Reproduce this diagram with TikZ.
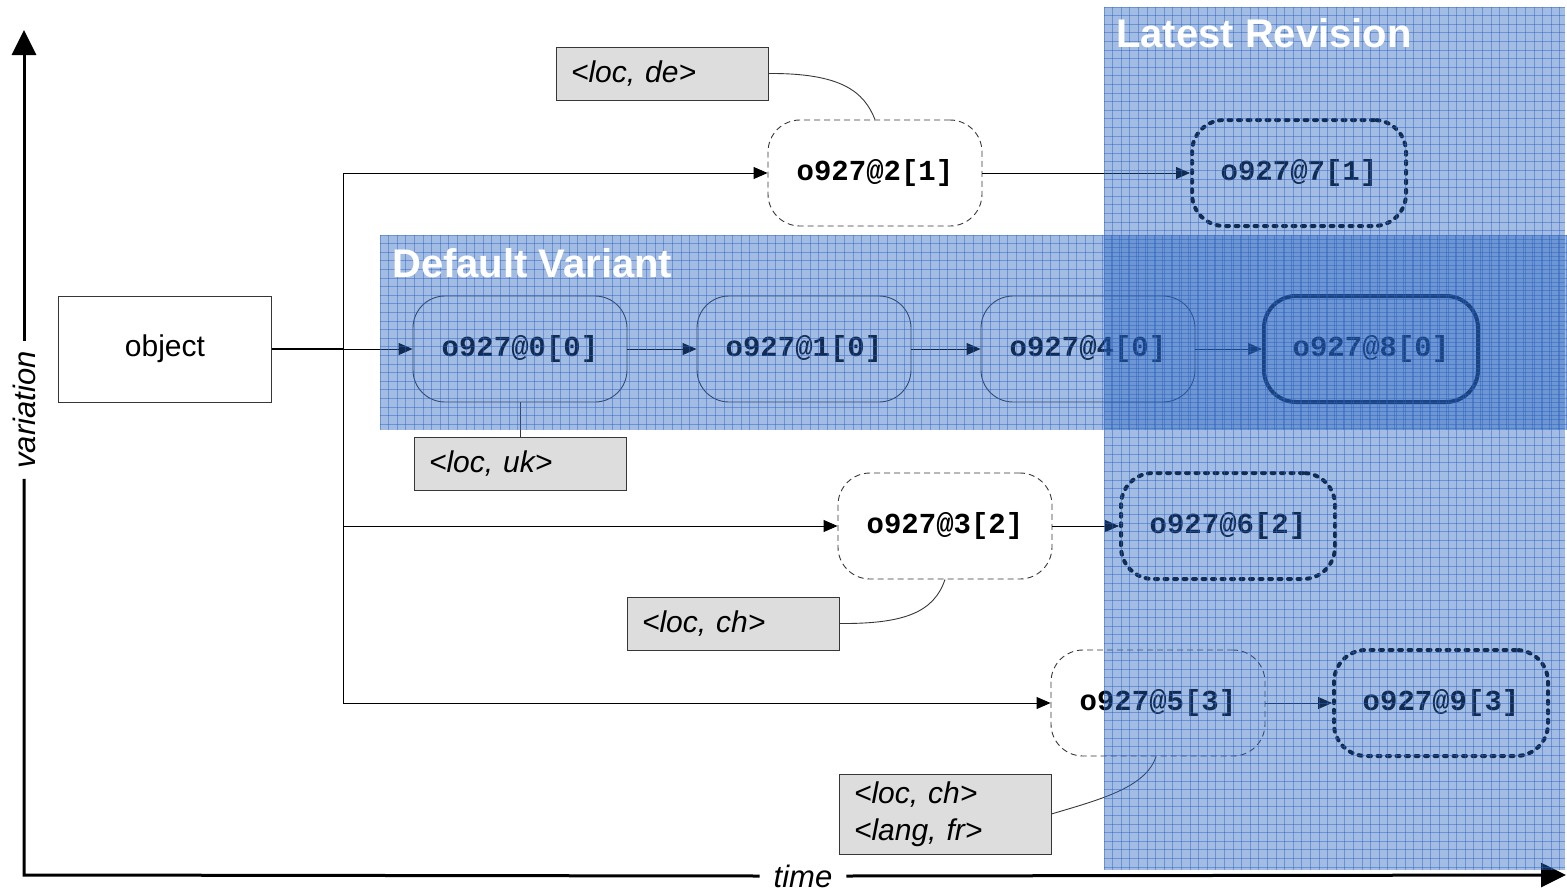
\documentclass[tikz,border=0pt]{standalone}
\usepackage{fontspec}
\setmainfont{Liberation Sans}
\newfontfamily\codefont{Liberation Mono}
\usetikzlibrary{arrows.meta}

\definecolor{panelblue}{RGB}{40,100,190}
\definecolor{gridblue}{RGB}{40,95,190}
\definecolor{notegray}{RGB}{221,221,221}
\definecolor{edgegray}{RGB}{55,55,55}

\begin{document}
\begin{tikzpicture}[x=1pt,y=-1pt,
  version/.style={draw=edgegray, line width=0.9pt, rounded corners=32pt,
    minimum width=214pt, minimum height=106pt, inner sep=0pt,
    font=\codefont\bfseries\fontsize{29}{34}\selectfont},
  variantv/.style={version, dash pattern=on 6pt off 4pt},
  latestv/.style={version, draw=black, line width=4pt, line cap=round,
    dash pattern=on 3pt off 6.5pt},
  headv/.style={version, draw=black, line width=4pt},
  objbox/.style={draw=edgegray, line width=0.9pt, minimum width=213pt,
    minimum height=106pt, font=\fontsize{30}{36}\selectfont},
  note/.style={draw=edgegray, fill=notegray, line width=0.9pt,
    minimum width=212pt, minimum height=53pt, text width=182pt,
    inner xsep=15pt, inner ysep=4pt, align=left,
    font=\itshape\fontsize{30}{37}\selectfont},
  flow/.style={draw=black, line width=0.9pt,
    -{Triangle[length=14pt,width=12pt]}},
  tie/.style={draw=edgegray, line width=0.9pt},
  axis/.style={draw=black, line width=3pt},
  axistip/.style={axis, -{Triangle[length=25pt,width=24pt]}},
  axislabel/.style={font=\itshape\fontsize{31}{36}\selectfont, inner ysep=0pt},
  paneltitle/.style={text=white, inner sep=0pt, anchor=base west,
    font=\bfseries\fontsize{40}{48}\selectfont},
  panelfill/.style={fill=panelblue, opacity=0.43},
  panelgrid/.style={draw=gridblue, opacity=0.45, line width=0.8pt}
]
\useasboundingbox (0,0) rectangle (1567,894);

% axes
\coordinate (origin) at (24,875);
\coordinate (ytop) at (24,30);
\coordinate (xend) at (1566,875);
\node[axislabel, rotate=90, inner xsep=10pt] (vlabel) at (24,410) {variation};
\node[axislabel, inner xsep=14pt] (tlabel) at (803,876) {time};
\draw[axistip] (vlabel.east) -- (ytop);
\draw[axis] (vlabel.west) -- (origin) -- (tlabel.west);
\draw[axistip] (tlabel.east) -- (xend);

% object and its versions
\node[objbox] (obj) at (165,349) {object};

\node[variantv] (n2) at (875,173) {o927@2[1]};
\node[latestv]  (n7) at (1299,173) {o927@7[1]};

\node[version]  (n0) at (520,349) {o927@0[0]};
\node[version]  (n1) at (804,349) {o927@1[0]};
\node[version]  (n4) at (1088,349) {o927@4[0]};
\node[headv]    (n8) at (1371,349) {o927@8[0]};

\node[variantv] (n3) at (945,526) {o927@3[2]};
\node[latestv]  (n6) at (1228,526) {o927@6[2]};

\node[variantv] (n5) at (1158,703) {o927@5[3]};
\node[latestv]  (n9) at (1441,703) {o927@9[3]};

% variant trunk
\coordinate (tjoin) at (343,349);
\coordinate (ttop) at (343,173);
\coordinate (tmid) at (343,526);
\coordinate (tbot) at (343,703);
\draw[draw=black, line width=1.6pt] (obj.east) -- (tjoin);
\draw[tie, draw=black] (ttop) -- (tbot);
\draw[flow] (tjoin) -- (n0);
\draw[flow] (ttop) -- (n2);
\draw[flow] (tmid) -- (n3);
\draw[flow] (tbot) -- (n5);

% revisions in time
\draw[flow] (n0) -- (n1);
\draw[flow] (n1) -- (n4);
\draw[flow] (n4) -- (n8);
\draw[flow] (n2) -- (n7);
\draw[flow] (n3) -- (n6);
\draw[flow] (n5) -- (n9);

% variant dimensions
\node[note] (dde) at (662,73.5) {<loc, de>};
\node[note] (duk) at (520,463.5) {<loc, uk>};
\node[note] (dch) at (733,623.5) {<loc, ch>};
\node[note, minimum height=80pt] (dfr) at (945,814) {<loc, ch>\\<lang, fr>};

\draw[tie] (dde.east) .. controls (842,73) and (864,92) .. (n2.north);
\draw[tie] (n0.south) -- (duk.north);
\draw[tie] (dch.east) .. controls (905,624) and (934,612) .. (n3.south);
\draw[tie] (dfr.east) .. controls (1098,800) and (1146,788) .. ([xshift=-2pt]n5.south);

% translucent panels
\fill[panelfill] (380,235) rectangle (1567,430);
\begin{scope}
  \clip (380,235) rectangle (1567,430);
  \foreach \gx in {380,388.6,...,1567} \draw[panelgrid] (\gx,235) -- (\gx,430);
  \foreach \gy in {235,243.6,...,430} \draw[panelgrid] (380,\gy) -- (1567,\gy);
\end{scope}

\fill[panelfill] (1104,7) rectangle (1565,870);
\begin{scope}
  \clip (1104,7) rectangle (1565,870);
  \foreach \gx in {1104,1112.6,...,1565} \draw[panelgrid] (\gx,7) -- (\gx,870);
  \foreach \gy in {7,15.6,...,870} \draw[panelgrid] (1104,\gy) -- (1565,\gy);
\end{scope}

\node[paneltitle] (dvtitle) at (392,277) {Default Variant};
\node[paneltitle] (lrtitle) at (1116,47) {Latest Revision};
\end{tikzpicture}
\end{document}
